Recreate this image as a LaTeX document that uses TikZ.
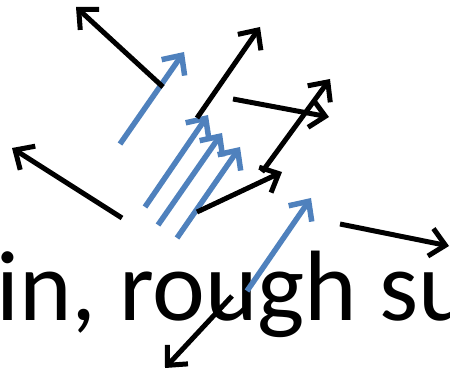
\documentclass[tikz,border=0pt]{standalone}
\usepackage{fontspec}
\setmainfont{Carlito}
\usetikzlibrary{arrows.meta}
\definecolor{ppblue}{HTML}{4F81BD}
\tikzset{
  blk/.style={draw=black, line width=5pt, -{Straight Barb[length=15pt,width=28pt]}},
  blu/.style={draw=ppblue, line width=5.5pt, -{Straight Barb[length=15pt,width=28pt]}},
  big/.style={font=\fontsize{100}{120}\selectfont, inner sep=0pt, anchor=base west}
}
\begin{document}
\begin{tikzpicture}[x=1pt,y=-1pt]
\useasboundingbox (0,0) rectangle (450,374);
\clip (0,0) rectangle (450,374);
\node[big] (txt) at (-4,320) {in, rough su};
% black arrows
\coordinate (k1a) at (163,87);  \coordinate (k1b) at (76,7);
\coordinate (k2a) at (197,118); \coordinate (k2b) at (260,27);
\coordinate (k3a) at (233,99);  \coordinate (k3b) at (329,117);
\coordinate (k4a) at (122,218); \coordinate (k4b) at (12,148);
\coordinate (k5a) at (197,212); \coordinate (k5b) at (282,172);
\coordinate (k6a) at (262,172); \coordinate (k6b) at (330,79);
\coordinate (k7a) at (340,224); \coordinate (k7b) at (449,246);
\coordinate (k8a) at (232,296); \coordinate (k8b) at (165,368);
% blue arrows
\coordinate (b0a) at (120,144); \coordinate (b0b) at (184,52);
\coordinate (b1a) at (145,207); \coordinate (b1b) at (208,115);
\coordinate (b2a) at (158,225); \coordinate (b2b) at (222,133);
\coordinate (b3a) at (177,238); \coordinate (b3b) at (240,147);
\coordinate (b4a) at (247,291); \coordinate (b4b) at (311,198);
\draw[blu] (b0a) -- (b0b);
\draw[blu] (b1a) -- (b1b);
\draw[blu] (b2a) -- (b2b);
\draw[blu] (b3a) -- (b3b);
\draw[blu] (b4a) -- (b4b);
\draw[blk] (k1a) -- (k1b);
\draw[blk] (k2a) -- (k2b);
\draw[blk] (k3a) -- (k3b);
\draw[blk] (k4a) -- (k4b);
\draw[blk] (k5a) -- (k5b);
\draw[blk] (k6a) -- (k6b);
\draw[blk] (k7a) -- (k7b);
\draw[blk] (k8a) -- (k8b);
\end{tikzpicture}
\end{document}
